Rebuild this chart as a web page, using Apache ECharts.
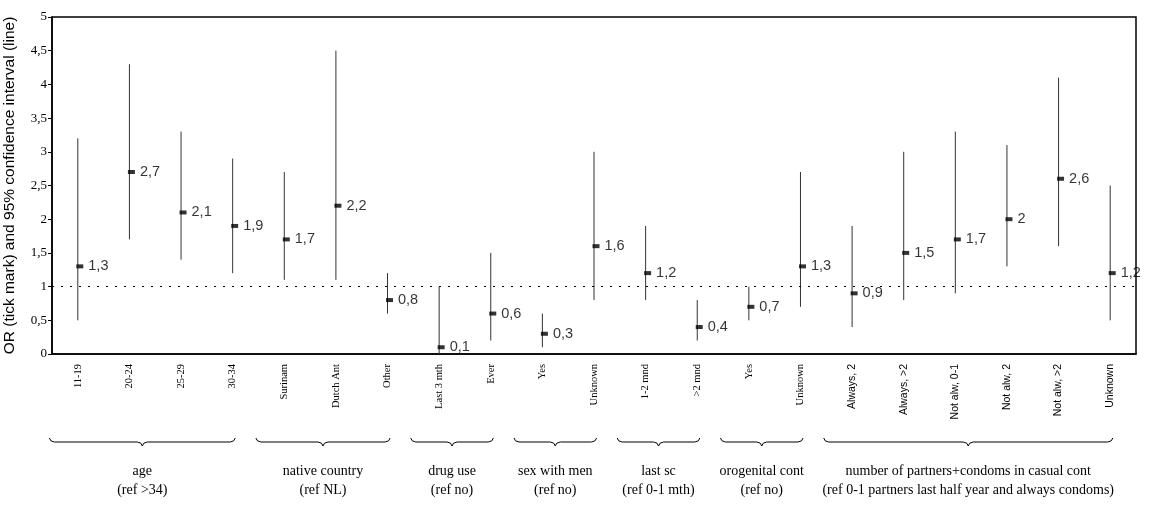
<!DOCTYPE html>
<html>
<head>
<meta charset="utf-8">
<script src="https://cdn.jsdelivr.net/npm/echarts@6/dist/echarts.min.js"></script>
<style>html,body{margin:0;padding:0;background:#fff}#c{width:1159px;height:508px}</style>
</head>
<body>
<div id="c"></div>
<script>
// ---- data ----
const categories = ['11-19','20-24','25-29','30-34','Surinam','Dutch Ant','Other','Last 3 mth','Ever','Yes','Unknown','1-2 mnd','>2 mnd','Yes','Unknown','Always, 2','Always, >2','Not alw, 0-1','Not alw, 2','Not alw, >2','Unknown'];
const oddsRatio = [1.3, 2.7, 2.1, 1.9, 1.7, 2.2, 0.8, 0.1, 0.6, 0.3, 1.6, 1.2, 0.4, 0.7, 1.3, 0.9, 1.5, 1.7, 2, 2.6, 1.2];
const ciLow  = [0.5, 1.7, 1.4, 1.2, 1.1, 1.1, 0.6, 0.0, 0.2, 0.1, 0.8, 0.8, 0.2, 0.5, 0.7, 0.4, 0.8, 0.9, 1.3, 1.6, 0.5];
const ciHigh = [3.2, 4.3, 3.3, 2.9, 2.7, 4.5, 1.2, 1.0, 1.5, 0.6, 3.0, 1.9, 0.8, 1.0, 2.7, 1.9, 3.0, 3.3, 3.1, 4.1, 2.5];
const groupNames = ['age','native country','drug use','sex with men','last sc','orogenital cont','number of partners+condoms in casual cont'];
const groupRefs  = ['(ref >34)','(ref NL)','(ref no)','(ref no)','(ref 0-1 mth)','(ref no)','(ref 0-1 partners last half year and always condoms)'];
const groupSizes = [4, 3, 2, 2, 2, 2, 6];
const yTicks = {min: 0, max: 5, interval: 0.5};
const referenceOR = 1;

const SERIF = '"Liberation Serif", "Times New Roman", serif';
const SANS = '"Liberation Sans", Arial, sans-serif';
const comma = v => String(v).replace('.', ',');

const chart = echarts.init(document.getElementById('c'));
const lastGroupStart = groupSizes.slice(0, -1).reduce((a, b) => a + b, 0);

chart.setOption({
  animation: false,
  grid: {left: 52, right: 23, top: 17, bottom: 154, containLabel: false, outerBoundsMode: 'none',
         show: true, borderColor: '#000', borderWidth: 1.5, backgroundColor: 'transparent'},
  xAxis: {
    type: 'category',
    data: categories,
    boundaryGap: true,
    axisLine: {lineStyle: {color: '#000', width: 1.5}},
    axisTick: {show: false},
    axisLabel: {
      rotate: 90,
      margin: 10,
      interval: 0,
      formatter: (v, i) => (i >= lastGroupStart ? '{s|' + v + '}' : '{t|' + v + '}'),
      rich: {
        t: {fontFamily: SERIF, fontSize: 10.5, color: '#000'},
        s: {fontFamily: SANS, fontSize: 10.5, color: '#000'}
      }
    },
    splitLine: {show: false}
  },
  yAxis: {
    type: 'value',
    min: yTicks.min, max: yTicks.max, interval: yTicks.interval,
    name: 'OR (tick mark) and 95% confidence interval (line)',
    nameLocation: 'middle',
    nameRotate: 90,
    nameGap: 34,
    nameTextStyle: {fontFamily: SANS, fontSize: 15.5, color: '#000'},
    axisLine: {show: true, lineStyle: {color: '#000', width: 1.5}},
    axisTick: {show: true, length: 4, inside: false, lineStyle: {color: '#000'}},
    axisLabel: {formatter: comma, fontFamily: SERIF, fontSize: 13, color: '#000', margin: 5},
    splitLine: {show: false}
  },
  series: [
    {
      type: 'custom',
      data: categories.map((c, i) => [i, ciLow[i], ciHigh[i]]),
      renderItem: (params, api) => {
        const a = api.coord([api.value(0), api.value(1)]);
        const b = api.coord([api.value(0), api.value(2)]);
        return {type: 'line', shape: {x1: a[0], y1: a[1], x2: b[0], y2: b[1]}, style: {stroke: '#333', lineWidth: 1}};
      },
      encode: {x: 0, y: [1, 2]},
      z: 2,
      markLine: {
        silent: true, symbol: 'none', label: {show: false},
        lineStyle: {color: '#000', type: [2, 7], width: 1},
        data: [{yAxis: referenceOR}]
      }
    },
    {
      type: 'scatter',
      data: categories.map((c, i) => [i, oddsRatio[i]]),
      symbol: 'rect',
      symbolSize: [7, 4],
      symbolOffset: [2, 0],
      itemStyle: {color: '#000'},
      z: 3,
      label: {
        show: true, position: 'right', distance: 5,
        formatter: p => comma(p.value[1]),
        fontFamily: SANS, fontSize: 14.5, color: '#000'
      }
    }
  ]
});

// braces and group labels under the category labels, positioned from the axis scale
const px = i => chart.convertToPixel({xAxisIndex: 0}, i);
const step = px(1) - px(0);
const graphics = [];
const braceY = 442;
let start = 0;
groupSizes.forEach((n, g) => {
  const x1 = px(start) - 0.55 * step;
  const x2 = px(start + n - 1) + 0.05 * step;
  const cx = (x1 + x2) / 2;
  const y = braceY;
  const pts = [[x1, y - 4], [x1 + 1.5, y - 1.2], [x1 + 5, y], [cx - 5, y], [cx - 1.5, y + 1.2], [cx, y + 4],
               [cx + 1.5, y + 1.2], [cx + 5, y], [x2 - 5, y], [x2 - 1.5, y - 1.2], [x2, y - 4]];
  graphics.push({type: 'polyline', shape: {points: pts}, style: {stroke: '#000', fill: null, lineWidth: 1}});
  graphics.push({type: 'text', x: cx, y: 471, style: {text: groupNames[g], font: '14px ' + SERIF, fill: '#000', textAlign: 'center', textVerticalAlign: 'middle'}});
  graphics.push({type: 'text', x: cx, y: 490, style: {text: groupRefs[g], font: '14px ' + SERIF, fill: '#000', textAlign: 'center', textVerticalAlign: 'middle'}});
  start += n;
});
chart.setOption({graphic: graphics});
</script>
</body>
</html>
